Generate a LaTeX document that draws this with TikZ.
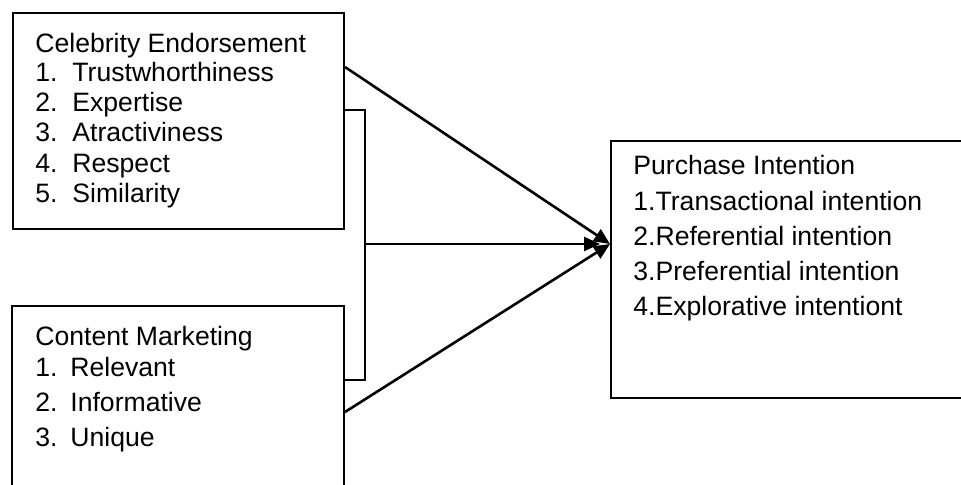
\documentclass[tikz,border=0pt]{standalone}
\usepackage{fontspec}
\setmainfont{Liberation Sans}
\usetikzlibrary{arrows.meta,fit}
\begin{document}
\begin{tikzpicture}[x=0.5pt,y=-0.5pt,
  box/.style={draw=black,line width=1pt,inner sep=0pt,fill=none},
  txt/.style={anchor=base west,inner sep=0pt,font=\fontsize{13.3pt}{15pt}\selectfont},
  conn/.style={draw=black,line width=1.3pt},
  arr/.style={conn,-{Triangle[length=8pt,width=7pt]}}]
\useasboundingbox (0,0) rectangle (961,485);
\clip (0,0) rectangle (961,485);
\fill[white] (0,0) rectangle (961,485);
% boxes
\node[box,fit={(13,13) (344,229)}] (ce) {};
\node[box,fit={(12,306) (344,520)}] (cm) {};
\node[box,fit={(611,141) (990,398)}] (pi) {};
% box 1 text
\node[txt] (ce0) at (35,53) {Celebrity Endorsement};
\node[txt] (ce1n) at (35,82) {1.};
\node[txt] (ce1) at (72,82) {Trustwhorthiness};
\node[txt] (ce2n) at (35,112) {2.};
\node[txt] (ce2) at (72,112) {Expertise};
\node[txt] (ce3n) at (35,142) {3.};
\node[txt] (ce3) at (72,142) {Atractiviness};
\node[txt] (ce4n) at (35,173) {4.};
\node[txt] (ce4) at (72,173) {Respect};
\node[txt] (ce5n) at (35,203) {5.};
\node[txt] (ce5) at (72,203) {Similarity};
% box 2 text
\node[txt] (cm0) at (35,345) {Content Marketing};
\node[txt] (cm1n) at (35,376) {1.};
\node[txt] (cm1) at (70,376) {Relevant};
\node[txt] (cm2n) at (35,411) {2.};
\node[txt] (cm2) at (70,411) {Informative};
\node[txt] (cm3n) at (35,446) {3.};
\node[txt] (cm3) at (70,446) {Unique};
% box 3 text
\node[txt] (pi0) at (633,175) {Purchase Intention};
\node[txt] (pi1) at (633,211) {1.Transactional intention};
\node[txt] (pi2) at (633,246) {2.Referential intention};
\node[txt] (pi3) at (633,281) {3.Preferential intention};
\node[txt] (pi4) at (633,316) {4.Explorative intentiont};
% connector points
\coordinate (t1) at (344,67);
\coordinate (b1) at (344,412);
\coordinate (br1) at (365,110);
\coordinate (br2) at (365,380);
\coordinate (brm) at (365,244);
\coordinate (hub) at (611,244);
% bracket
\draw[conn] (ce.east |- br1) -- (br1) -- (br2) -- (cm.east |- br2);
% arrows
\draw[arr] (ce.east |- t1) -- (pi.west |- hub);
\draw[arr] (cm.east |- b1) -- (pi.west |- hub);
\draw[arr,shorten >=5pt] (brm) -- (pi.west |- hub);
\end{tikzpicture}
\end{document}
